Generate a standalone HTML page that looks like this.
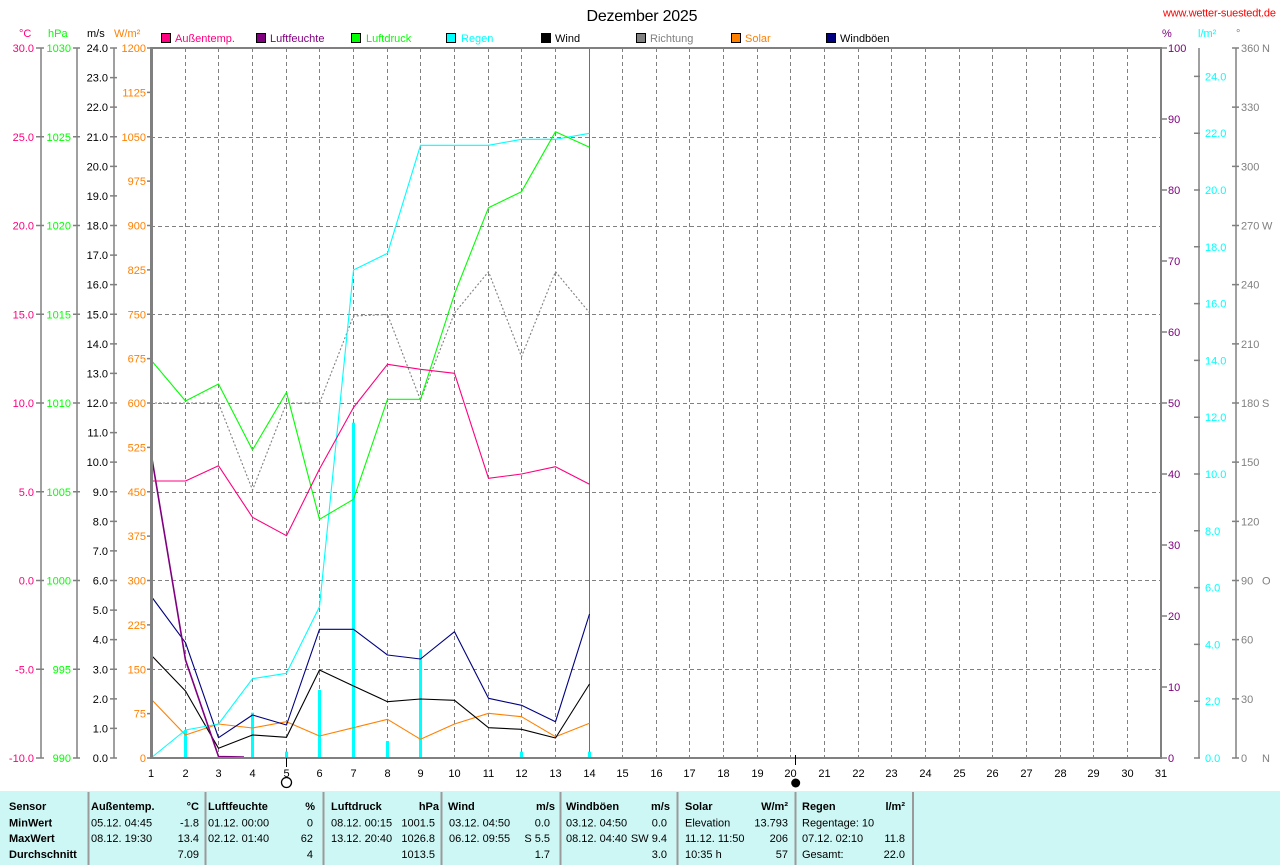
<!DOCTYPE html>
<html><head><meta charset="utf-8"><style>
html,body{margin:0;padding:0;background:#fff;}
svg{display:block;font-family:"Liberation Sans",sans-serif;}
</style></head><body>
<svg width="1280" height="865" viewBox="0 0 1280 865" xmlns="http://www.w3.org/2000/svg">
<rect x="0" y="0" width="1280" height="865" fill="#fff"/>
<!-- title -->
<text x="642" y="21" font-size="16" text-anchor="middle" fill="#000" textLength="111">Dezember 2025</text>
<text x="1163" y="16.5" font-size="11" fill="#ff0000" textLength="113">www.wetter-suestedt.de</text>

<!-- unit headers -->
<g font-size="11">
<text x="19" y="37" fill="#ff0080">°C</text>
<text x="48" y="37" fill="#00ff00">hPa</text>
<text x="87" y="37" fill="#000">m/s</text>
<text x="114" y="37" fill="#ff8000">W/m²</text>
<text x="1162" y="37" fill="#800080">%</text>
<text x="1198" y="37" fill="#00ffff">l/m²</text>
<text x="1236" y="37" fill="#808080">°</text>
</g>

<!-- legend -->
<g font-size="11" stroke-width="1">
<rect x="161.5" y="33.5" width="9" height="9" fill="#ff0080" stroke="#000"/><text x="175" y="42" fill="#ff0080">Außentemp.</text>
<rect x="256.5" y="33.5" width="9" height="9" fill="#800080" stroke="#000"/><text x="270" y="42" fill="#800080">Luftfeuchte</text>
<rect x="351.5" y="33.5" width="9" height="9" fill="#00ff00" stroke="#000"/><text x="366" y="42" fill="#00ff00">Luftdruck</text>
<rect x="446.5" y="33.5" width="9" height="9" fill="#00ffff" stroke="#000"/><text x="461" y="42" fill="#00ffff">Regen</text>
<rect x="541.5" y="33.5" width="9" height="9" fill="#000" stroke="#000"/><text x="555" y="42" fill="#000">Wind</text>
<rect x="636.5" y="33.5" width="9" height="9" fill="#808080" stroke="#000"/><text x="650" y="42" fill="#808080">Richtung</text>
<rect x="731.5" y="33.5" width="9" height="9" fill="#ff8000" stroke="#000"/><text x="745" y="42" fill="#ff8000">Solar</text>
<rect x="826.5" y="33.5" width="9" height="9" fill="#000080" stroke="#000"/><text x="840" y="42" fill="#000">Windböen</text>
</g>

<!-- left axis lines -->
<g stroke="#808080" stroke-width="1.5" fill="none">
<path d="M41 48V758M77 48V758M114 48V758"/>
<path d="M1199 48V758M1236 48V758"/>
<path d="M36 48H44M36 136.75H44M36 225.5H44M36 314.25H44M36 403H44M36 491.75H44M36 580.5H44M36 669.25H44M36 758H44"/>
<path d="M73 48H80M73 136.75H80M73 225.5H80M73 314.25H80M73 403H80M73 491.75H80M73 580.5H80M73 669.25H80M73 758H80"/>
<path d="M110 48H117M110 77.58H117M110 107.17H117M110 136.75H117M110 166.33H117M110 195.92H117M110 225.5H117M110 255.08H117M110 284.67H117M110 314.25H117M110 343.83H117M110 373.42H117M110 403H117M110 432.58H117M110 462.17H117M110 491.75H117M110 521.33H117M110 550.92H117M110 580.5H117M110 610.08H117M110 639.67H117M110 669.25H117M110 698.83H117M110 728.42H117M110 758H117"/>
<path d="M147 48H151M147 92.38H151M147 136.75H151M147 181.13H151M147 225.5H151M147 269.88H151M147 314.25H151M147 358.63H151M147 403H151M147 447.38H151M147 491.75H151M147 536.13H151M147 580.5H151M147 624.88H151M147 669.25H151M147 713.63H151M147 758H151"/>
<path d="M1161 48H1167M1161 119H1167M1161 190H1167M1161 261H1167M1161 332H1167M1161 403H1167M1161 474H1167M1161 545H1167M1161 616H1167M1161 687H1167M1161 758H1167"/>
<path d="M1194 76.4H1200M1194 133.2H1200M1194 190H1200M1194 246.8H1200M1194 303.6H1200M1194 360.4H1200M1194 417.2H1200M1194 474H1200M1194 530.8H1200M1194 587.6H1200M1194 644.4H1200M1194 701.2H1200M1194 758H1200"/>
<path d="M1232 48H1239M1232 107.17H1239M1232 166.33H1239M1232 225.5H1239M1232 284.67H1239M1232 343.83H1239M1232 403H1239M1232 462.17H1239M1232 521.33H1239M1232 580.5H1239M1232 639.67H1239M1232 698.83H1239M1232 758H1239"/>
</g>

<!-- left labels -->
<g font-size="11" text-anchor="end" fill="#ff0080">
<text x="34" y="52">30.0</text><text x="34" y="140.75">25.0</text><text x="34" y="229.5">20.0</text><text x="34" y="318.25">15.0</text><text x="34" y="407">10.0</text><text x="34" y="495.75">5.0</text><text x="34" y="584.5">0.0</text><text x="34" y="673.25">-5.0</text><text x="34" y="762">-10.0</text>
</g>
<g font-size="11" text-anchor="end" fill="#00ff00">
<text x="71" y="52">1030</text><text x="71" y="140.75">1025</text><text x="71" y="229.5">1020</text><text x="71" y="318.25">1015</text><text x="71" y="407">1010</text><text x="71" y="495.75">1005</text><text x="71" y="584.5">1000</text><text x="71" y="673.25">995</text><text x="71" y="762">990</text>
</g>
<g font-size="11" text-anchor="end" fill="#000">
<text x="108" y="52">24.0</text><text x="108" y="81.58">23.0</text><text x="108" y="111.17">22.0</text><text x="108" y="140.75">21.0</text><text x="108" y="170.33">20.0</text><text x="108" y="199.92">19.0</text><text x="108" y="229.5">18.0</text><text x="108" y="259.08">17.0</text><text x="108" y="288.67">16.0</text><text x="108" y="318.25">15.0</text><text x="108" y="347.83">14.0</text><text x="108" y="377.42">13.0</text><text x="108" y="407">12.0</text><text x="108" y="436.58">11.0</text><text x="108" y="466.17">10.0</text><text x="108" y="495.75">9.0</text><text x="108" y="525.33">8.0</text><text x="108" y="554.92">7.0</text><text x="108" y="584.5">6.0</text><text x="108" y="614.08">5.0</text><text x="108" y="643.67">4.0</text><text x="108" y="673.25">3.0</text><text x="108" y="702.83">2.0</text><text x="108" y="732.42">1.0</text><text x="108" y="762">0.0</text>
</g>
<g font-size="11" text-anchor="end" fill="#ff8000">
<text x="146" y="52">1200</text><text x="146" y="96.38">1125</text><text x="146" y="140.75">1050</text><text x="146" y="185.13">975</text><text x="146" y="229.5">900</text><text x="146" y="273.88">825</text><text x="146" y="318.25">750</text><text x="146" y="362.63">675</text><text x="146" y="407">600</text><text x="146" y="451.38">525</text><text x="146" y="495.75">450</text><text x="146" y="540.13">375</text><text x="146" y="584.5">300</text><text x="146" y="628.88">225</text><text x="146" y="673.25">150</text><text x="146" y="717.63">75</text><text x="146" y="762">0</text>
</g>
<!-- right labels -->
<g font-size="11" fill="#800080">
<text x="1168" y="52">100</text><text x="1168" y="123">90</text><text x="1168" y="194">80</text><text x="1168" y="265">70</text><text x="1168" y="336">60</text><text x="1168" y="407">50</text><text x="1168" y="478">40</text><text x="1168" y="549">30</text><text x="1168" y="620">20</text><text x="1168" y="691">10</text><text x="1168" y="762">0</text>
</g>
<g font-size="11" fill="#00ffff">
<text x="1205" y="80.4">24.0</text><text x="1205" y="137.2">22.0</text><text x="1205" y="194">20.0</text><text x="1205" y="250.8">18.0</text><text x="1205" y="307.6">16.0</text><text x="1205" y="364.4">14.0</text><text x="1205" y="421.2">12.0</text><text x="1205" y="478">10.0</text><text x="1205" y="534.8">8.0</text><text x="1205" y="591.6">6.0</text><text x="1205" y="648.4">4.0</text><text x="1205" y="705.2">2.0</text><text x="1205" y="762">0.0</text>
</g>
<g font-size="11" fill="#808080">
<text x="1241" y="52">360</text><text x="1241" y="111.17">330</text><text x="1241" y="170.33">300</text><text x="1241" y="229.5">270</text><text x="1241" y="288.67">240</text><text x="1241" y="347.83">210</text><text x="1241" y="407">180</text><text x="1241" y="466.17">150</text><text x="1241" y="525.33">120</text><text x="1241" y="584.5">90</text><text x="1241" y="643.67">60</text><text x="1241" y="702.83">30</text><text x="1241" y="762">0</text>
<text x="1262" y="52">N</text><text x="1262" y="229.5">W</text><text x="1262" y="407">S</text><text x="1262" y="584.5">O</text><text x="1262" y="762">N</text>
</g>

<!-- grid -->
<g stroke="#808080" stroke-width="1" stroke-dasharray="4,3" fill="none">
<path d="M185.5 48V758M218.5 48V758M252.5 48V758M286.5 48V758M319.5 48V758M353.5 48V758M387.5 48V758M420.5 48V758M454.5 48V758M488.5 48V758M521.5 48V758M555.5 48V758M622.5 48V758M656.5 48V758M689.5 48V758M723.5 48V758M757.5 48V758M790.5 48V758M824.5 48V758M858.5 48V758M891.5 48V758M925.5 48V758M959.5 48V758M992.5 48V758M1026.5 48V758M1060.5 48V758M1093.5 48V758M1127.5 48V758"/>
<path d="M151 137.5H1161M151 226.5H1161M151 314.5H1161M151 403.5H1161M151 492.5H1161M151 580.5H1161M151 669.5H1161"/>
</g>
<path d="M589.5 48V758" stroke="#707070" stroke-width="1"/>

<!-- rain bars -->
<g fill="#00ffff">
<rect x="184" y="730" width="3" height="28"/>
<rect x="251" y="712.7" width="3" height="45.3"/>
<rect x="285" y="751.7" width="3" height="6.3"/>
<rect x="318" y="690" width="3" height="68"/>
<rect x="352" y="422.7" width="3" height="335.3"/>
<rect x="386" y="741" width="3" height="17"/>
<rect x="419" y="649.3" width="3" height="108.7"/>
<rect x="520" y="751.7" width="3" height="6.3"/>
<rect x="588" y="751.7" width="3" height="6.3"/>
</g>

<!-- series -->
<g fill="none" stroke-width="1.1" stroke-linejoin="round">
<polyline stroke="#808080" stroke-dasharray="2,2" points="151,403 185.5,403 218.5,403 252.5,490 286.5,403 319.5,403 353.5,316 387.5,314.5 420.5,400 454.5,313 488.5,271.7 521.5,356.7 555.5,271.7 589.5,312.7"/>
<polyline stroke="#ff8000" points="151,699 185.5,735 218.5,724 252.5,728 286.5,721.7 319.5,736 353.5,727.7 387.5,719.3 420.5,739.3 454.5,724 488.5,713.3 521.5,716.7 555.5,736.7 589.5,723.3"/>
<polyline stroke="#000000" points="151,655 185.5,691 218.5,748.3 252.5,735 286.5,737.3 319.5,670 353.5,686 387.5,701.7 420.5,699 454.5,700.3 488.5,727.7 521.5,729.3 555.5,738 589.5,684"/>
<polyline stroke="#000080" points="151,596 185.5,642.7 218.5,737.7 252.5,715 286.5,725 319.5,629.3 353.5,629.3 387.5,655 420.5,659 454.5,631.7 488.5,698.3 521.5,705.3 555.5,721.7 589.5,614"/>
<polyline stroke="#00ffff" points="151,758 185.5,730 218.5,724 252.5,678.7 286.5,673.3 319.5,606.7 353.5,270 387.5,253.3 420.5,145.3 454.5,145.3 488.5,145.3 521.5,139.3 555.5,139.3 589.5,133.3"/>
<polyline stroke="#800080" stroke-width="1.6" points="151,452.7 185.5,660 218.5,756.5 244,757"/>
<polyline stroke="#00ff00" points="151,360 185.5,401 218.5,384 252.5,450 286.5,392.3 319.5,519.3 353.5,499.3 387.5,399.3 420.5,399.3 454.5,294 488.5,207.7 521.5,191.7 555.5,131.7 589.5,147.3"/>
<polyline stroke="#ff0080" points="151,481 185.5,481 218.5,465.7 252.5,517.3 286.5,535.7 319.5,469 353.5,407.5 387.5,364.3 420.5,369.3 454.5,373.3 488.5,478.3 521.5,474 555.5,466.7 589.5,484.3"/>
</g>

<!-- frame -->
<rect x="151" y="48" width="1010" height="710" fill="none" stroke="#808080" stroke-width="2"/>
<path d="M152.5 48V758" stroke="#808080" stroke-width="1"/>

<!-- day labels -->
<g font-size="11" text-anchor="middle" fill="#000">
<text x="151" y="777">1</text><text x="185.5" y="777">2</text><text x="218.5" y="777">3</text><text x="252.5" y="777">4</text><text x="286.5" y="777">5</text><text x="319.5" y="777">6</text><text x="353.5" y="777">7</text><text x="387.5" y="777">8</text><text x="420.5" y="777">9</text><text x="454.5" y="777">10</text><text x="488.5" y="777">11</text><text x="521.5" y="777">12</text><text x="555.5" y="777">13</text><text x="589.5" y="777">14</text><text x="622.5" y="777">15</text><text x="656.5" y="777">16</text><text x="689.5" y="777">17</text><text x="723.5" y="777">18</text><text x="757.5" y="777">19</text><text x="790.5" y="777">20</text><text x="824.5" y="777">21</text><text x="858.5" y="777">22</text><text x="891.5" y="777">23</text><text x="925.5" y="777">24</text><text x="959.5" y="777">25</text><text x="992.5" y="777">26</text><text x="1026.5" y="777">27</text><text x="1060.5" y="777">28</text><text x="1093.5" y="777">29</text><text x="1127.5" y="777">30</text><text x="1161" y="777">31</text>
</g>

<!-- moon markers -->
<path d="M286.5 758V767M795.5 755V765" stroke="#000" stroke-width="1"/>
<circle cx="286.5" cy="782.5" r="5" fill="#fff" stroke="#000" stroke-width="1.3"/>
<circle cx="795.7" cy="783" r="4.5" fill="#000"/>

<!-- table -->
<rect x="0" y="791" width="1280" height="74" fill="#cdf7f4"/>
<g stroke="#9a9a9a" stroke-width="2">
<path d="M88.5 792V865M205.5 792V865M323.5 792V865M441.5 792V865M560.5 792V865M677.5 792V865M795.5 792V865M913 792V865"/>
</g>
<g font-size="11" fill="#000" style="white-space:pre">
<g font-weight="bold">
<text x="9" y="810">Sensor</text>
<text x="9" y="826.5">MinWert</text>
<text x="9" y="842">MaxWert</text>
<text x="9" y="858">Durchschnitt</text>
<text x="91" y="810">Außentemp.</text><text x="199" y="810" text-anchor="end">°C</text>
<text x="208" y="810">Luftfeuchte</text><text x="315" y="810" text-anchor="end">%</text>
<text x="331" y="810">Luftdruck</text><text x="439" y="810" text-anchor="end">hPa</text>
<text x="448" y="810">Wind</text><text x="555" y="810" text-anchor="end">m/s</text>
<text x="566" y="810">Windböen</text><text x="670" y="810" text-anchor="end">m/s</text>
<text x="685" y="810">Solar</text><text x="788" y="810" text-anchor="end">W/m²</text>
<text x="802" y="810">Regen</text><text x="905" y="810" text-anchor="end">l/m²</text>
</g>
<text x="91" y="826.5">05.12.  04:45</text><text x="199" y="826.5" text-anchor="end">-1.8</text>
<text x="91" y="842">08.12.  19:30</text><text x="199" y="842" text-anchor="end">13.4</text>
<text x="199" y="858" text-anchor="end">7.09</text>
<text x="208" y="826.5">01.12.  00:00</text><text x="313" y="826.5" text-anchor="end">0</text>
<text x="208" y="842">02.12.  01:40</text><text x="313" y="842" text-anchor="end">62</text>
<text x="313" y="858" text-anchor="end">4</text>
<text x="331" y="826.5">08.12.  00:15</text><text x="435" y="826.5" text-anchor="end">1001.5</text>
<text x="331" y="842">13.12.  20:40</text><text x="435" y="842" text-anchor="end">1026.8</text>
<text x="435" y="858" text-anchor="end">1013.5</text>
<text x="449" y="826.5">03.12.  04:50</text><text x="550" y="826.5" text-anchor="end">0.0</text>
<text x="449" y="842">06.12.  09:55</text><text x="550" y="842" text-anchor="end">S 5.5</text>
<text x="550" y="858" text-anchor="end">1.7</text>
<text x="566" y="826.5">03.12.  04:50</text><text x="667" y="826.5" text-anchor="end">0.0</text>
<text x="566" y="842">08.12.  04:40</text><text x="667" y="842" text-anchor="end">SW 9.4</text>
<text x="667" y="858" text-anchor="end">3.0</text>
<text x="685" y="826.5">Elevation</text><text x="788" y="826.5" text-anchor="end">13.793</text>
<text x="685" y="842">11.12.  11:50</text><text x="788" y="842" text-anchor="end">206</text>
<text x="685" y="858">10:35 h</text><text x="788" y="858" text-anchor="end">57</text>
<text x="802" y="826.5">Regentage: 10</text>
<text x="802" y="842">07.12.  02:10</text><text x="905" y="842" text-anchor="end">11.8</text>
<text x="802" y="858">Gesamt:</text><text x="905" y="858" text-anchor="end">22.0</text>
</g>
</svg>
</body></html>
